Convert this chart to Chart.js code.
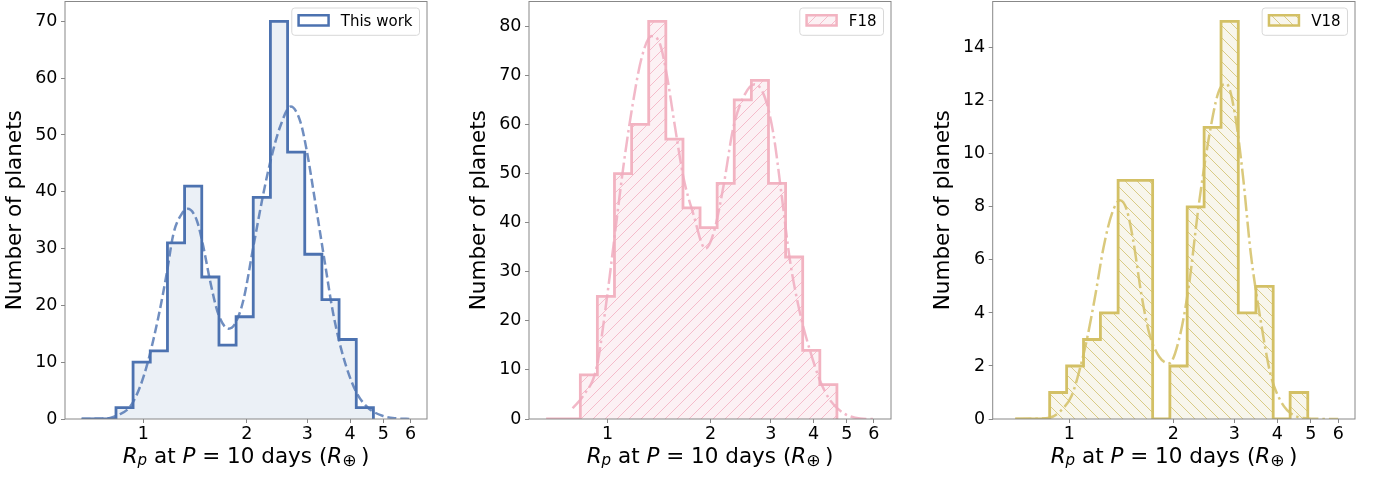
<!DOCTYPE html>
<html>
<head>
<meta charset="utf-8">
<script src="https://cdn.jsdelivr.net/npm/chart.js@4.4.0/dist/chart.umd.min.js"></script>
<style>
  body { margin: 0; background: #fff; }
  #wrap { position: relative; width: 1379px; height: 478px; overflow: hidden; }
  canvas { position: absolute; top: 0; }
  .xt { position: absolute; top: 444px; width: 400px; text-align: center; font: 21.5px/24px "DejaVu Sans"; color: #000; white-space: nowrap; }
  .xt i { font-style: oblique; }
  .xt sub { font-size: 0.7em; vertical-align: -0.15em; line-height: 0; }
  .xt .op { font-size: 0.8em; }
</style>
</head>
<body>
<div id="wrap">
  <canvas id="c1" width="460" height="478" style="left:0px"></canvas>
  <canvas id="c2" width="460" height="478" style="left:460px"></canvas>
  <canvas id="c3" width="459" height="478" style="left:920px"></canvas>
  <div class="xt" style="left:46px"><i>R</i><sub><i>p</i></sub> at <i>P</i> = 10 days (<i>R</i><sub class="op">⊕</sub>&thinsp;)</div>
  <div class="xt" style="left:510px"><i>R</i><sub><i>p</i></sub> at <i>P</i> = 10 days (<i>R</i><sub class="op">⊕</sub>&thinsp;)</div>
  <div class="xt" style="left:974px"><i>R</i><sub><i>p</i></sub> at <i>P</i> = 10 days (<i>R</i><sub class="op">⊕</sub>&thinsp;)</div>
</div>
<script>
// bin edges (R_earth)
const edgesThisWork = [0.661, 0.741, 0.832, 0.933, 1.047, 1.175, 1.318, 1.479, 1.660, 1.862, 2.089, 2.344, 2.630, 2.951, 3.311, 3.715, 4.169, 4.677];
const edgesF18 = edgesThisWork;
const edgesV18 = [0.697, 0.782, 0.877, 0.982, 1.099, 1.230, 1.384, 1.549, 1.742, 1.954, 2.193, 2.455, 2.748, 3.083, 3.467, 3.890, 4.355, 4.898];

// counts per bin
const countsThisWork = [0, 0, 2, 10, 12, 31, 41, 25, 13, 18, 39, 70, 47, 29, 21, 14, 2];
const countsF18 = [0, 0, 9, 25, 50, 60, 81, 57, 43, 39, 48, 65, 69, 48, 33, 14, 7];
const countsV18 = [0, 0, 1, 2, 3, 4, 9, 9, 0, 2, 8, 11, 15, 4, 5, 0, 1];

// smooth curves
const kdeThisWorkR = [0.66, 0.74, 0.80, 0.844, 0.915, 0.978, 1.034, 1.106, 1.169, 1.223, 1.293, 1.346, 1.43, 1.495, 1.563, 1.65, 1.77, 1.85, 1.955, 2.09, 2.236, 2.36, 2.50, 2.686, 2.86, 2.99, 3.16, 3.38, 3.57, 3.82, 4.14, 4.47, 5.0, 5.5, 6.0];
const kdeThisWorkN = [0, 0.05, 0.2, 0.7, 2.2, 5.7, 10.4, 18, 25.6, 32.6, 36.1, 37, 35, 30.3, 24.4, 18.6, 15.9, 16.8, 20.9, 30.3, 39.7, 46.1, 51.4, 55, 52.5, 47.3, 38.5, 27.4, 18.6, 11, 5.1, 2.2, 0.5, 0.1, 0];
const kdeF18R = [0.79, 0.85, 0.929, 0.993, 1.05, 1.111, 1.175, 1.257, 1.344, 1.422, 1.487, 1.574, 1.664, 1.779, 1.93, 2.036, 2.177, 2.33, 2.49, 2.69, 2.88, 3.05, 3.22, 3.41, 3.65, 3.9, 4.17, 4.46, 4.89, 5.47, 6.0];
const kdeF18N = [2.2, 4.8, 10.6, 24.2, 37.7, 51.3, 62.8, 73.6, 78, 76.4, 70.3, 59.4, 49.3, 41.8, 34.7, 37.7, 47.2, 59.4, 65.5, 68.2, 65.5, 58.1, 45.9, 32.3, 21.5, 14, 7.9, 3.9, 1.2, 0.1, 0];
const kdeV18R = [0.698, 0.80, 0.877, 0.942, 1.017, 1.073, 1.128, 1.19, 1.257, 1.328, 1.402, 1.465, 1.53, 1.616, 1.706, 1.82, 1.945, 2.077, 2.216, 2.365, 2.526, 2.697, 2.847, 3.006, 3.175, 3.35, 3.58, 3.82, 4.08, 4.45, 5.07, 6.0];
const kdeV18N = [0, 0.01, 0.05, 0.3, 0.9, 1.9, 3.1, 4.7, 6.5, 7.75, 8.25, 7.9, 6.75, 4.7, 3.2, 2.35, 2.1, 3.0, 5.0, 8.0, 10.5, 12.3, 12.65, 11.6, 9.25, 6.25, 3.7, 1.7, 0.7, 0.15, 0.01, 0];

// tick labels
const xTicks = [1, 2, 3, 4, 5, 6];
const yTicksThisWork = [0, 10, 20, 30, 40, 50, 60, 70];
const yTicksF18 = [0, 10, 20, 30, 40, 50, 60, 70, 80];
const yTicksV18 = [0, 2, 4, 6, 8, 10, 12, 14];

Chart.defaults.font.family = '"DejaVu Sans"';

function hatch(bg, line, dir) {
  const s = 12;
  const c = document.createElement('canvas');
  c.width = s; c.height = s;
  const g = c.getContext('2d');
  g.fillStyle = bg;
  g.fillRect(0, 0, s, s);
  g.strokeStyle = line;
  g.lineWidth = 1;
  g.beginPath();
  for (const o of [-s, 0, s]) {
    if (dir === '/') { g.moveTo(o - 1, s + 1); g.lineTo(o + s + 1, -1); }
    else { g.moveTo(o - 1, -1); g.lineTo(o + s + 1, s + 1); }
  }
  g.stroke();
  return g.createPattern(c, 'repeat');
}

// step outline points from edges + counts
function stepPoints(edges, counts) {
  const pts = [{x: edges[0], y: 0}];
  counts.forEach((c, i) => pts.push({x: edges[i], y: c}));
  pts.push({x: edges[edges.length - 1], y: counts[counts.length - 1]});
  pts.push({x: edges[edges.length - 1], y: 0});
  return pts;
}

// no label overflow padding, the plot box is placed by hand
function noPad(s) {
  s.paddingTop = 0; s.paddingBottom = 0; s.paddingLeft = 0; s.paddingRight = 0;
}

const frameAndLegend = {
  id: 'frameAndLegend',
  afterDatasetsDraw(chart, args, o) {
    const ctx = chart.ctx, a = chart.chartArea;
    ctx.save();
    ctx.strokeStyle = '#888';
    ctx.lineWidth = 1;
    ctx.strokeRect(a.left, a.top, a.right - a.left, a.bottom - a.top);

    ctx.font = '15px "DejaVu Sans"';
    const tw = ctx.measureText(o.label).width;
    const w = 56 + tw, h = 27.3;
    const x = a.right - 7.5 - w, y = 8;
    ctx.beginPath();
    ctx.roundRect(x, y, w, h, 3);
    ctx.fillStyle = 'rgba(255,255,255,0.8)';
    ctx.fill();
    ctx.strokeStyle = '#d8d8d8';
    ctx.lineWidth = 1;
    ctx.stroke();

    ctx.beginPath();
    ctx.rect(x + 6.8, y + 7.2, 30, 10.3);
    ctx.fillStyle = o.patchFill;
    ctx.fill();
    ctx.strokeStyle = o.color;
    ctx.lineWidth = 2.5;
    ctx.stroke();

    ctx.fillStyle = '#000';
    ctx.textBaseline = 'alphabetic';
    ctx.textAlign = 'left';
    ctx.fillText(o.label, x + 49, y + 18);
    ctx.restore();
  }
};

function makeChart(p) {
  return new Chart(document.getElementById(p.id), {
    type: 'line',
    data: {
      datasets: [
        {
          data: stepPoints(p.edges, p.counts),
          stepped: 'before',
          borderColor: p.color,
          borderWidth: 2.8,
          borderJoinStyle: 'miter',
          fill: 'origin',
          backgroundColor: p.fill,
          pointRadius: 0,
          order: 1
        },
        {
          data: p.kdeR.map((r, i) => ({x: r, y: p.kdeN[i]})),
          borderColor: p.curve,
          borderWidth: 2.5,
          borderDash: p.dash,
          cubicInterpolationMode: 'monotone',
          fill: false,
          pointRadius: 0,
          order: 0
        }
      ]
    },
    options: {
      responsive: false,
      animation: false,
      events: [],
      layout: {autoPadding: false, padding: {left: 0, right: p.padRight, top: 1.5, bottom: 0}},
      scales: {
        x: {
          type: 'logarithmic',
          min: p.xmin, max: p.xmax,
          afterBuildTicks: s => { s.ticks = xTicks.map(v => ({value: v})); },
          afterFit: s => { s.height = 59; noPad(s); },
          ticks: {autoSkip: false, maxRotation: 0, padding: 1, color: '#000', font: {size: 17.5}, callback: v => String(v)},
          grid: {drawOnChartArea: false, drawTicks: true, tickLength: 4, color: '#888'},
          border: {display: false}
        },
        y: {
          min: 0, max: p.ymax,
          afterBuildTicks: s => { s.ticks = p.yTicks.map(v => ({value: v})); },
          afterFit: s => { s.width = p.yWidth; noPad(s); },
          ticks: {padding: 3.5, color: '#000', font: {size: 17.5}, callback: v => String(v)},
          grid: {drawOnChartArea: false, drawTicks: true, tickLength: 4, color: '#888'},
          border: {display: false},
          title: {display: true, text: 'Number of planets', color: '#000', font: {size: 21.5}, padding: {top: p.titlePad, bottom: 0}}
        }
      },
      plugins: {
        legend: {display: false},
        tooltip: {enabled: false},
        frameAndLegend: {label: p.label, color: p.color, patchFill: p.patchFill}
      }
    },
    plugins: [frameAndLegend]
  });
}

makeChart({
  id: 'c1', edges: edgesThisWork, counts: countsThisWork, kdeR: kdeThisWorkR, kdeN: kdeThisWorkN,
  yTicks: yTicksThisWork, ymax: 73.5, xmin: 0.591, xmax: 6.70, yWidth: 65, padRight: 33, titlePad: 2.1,
  color: '#4c72b0', fill: 'rgba(76,114,176,0.11)', curve: 'rgba(76,114,176,0.8)', dash: [9, 4],
  label: 'This work', patchFill: '#fff'
});
makeChart({
  id: 'c2', edges: edgesF18, counts: countsF18, kdeR: kdeF18R, kdeN: kdeF18N,
  yTicks: yTicksF18, ymax: 85.05, xmin: 0.589, xmax: 6.73, yWidth: 69, padRight: 29, titlePad: 6.1,
  color: '#f2b3c1', fill: hatch('#fcf1f4', '#f5bccb', '/'), curve: 'rgba(240,172,190,0.85)', dash: [16, 4, 2.5, 4],
  label: 'F18', patchFill: hatch('#fcf1f4', '#f5bccb', '/')
});
makeChart({
  id: 'c3', edges: edgesV18, counts: countsV18, kdeR: kdeV18R, kdeN: kdeV18N,
  yTicks: yTicksV18, ymax: 15.75, xmin: 0.618, xmax: 6.71, yWidth: 72.7, padRight: 24, titlePad: 10.6,
  color: '#d3c065', fill: hatch('#f8f6ec', '#d9cb86', '\\'), curve: 'rgba(211,192,101,0.85)', dash: [16, 4, 2.5, 4],
  label: 'V18', patchFill: hatch('#f8f6ec', '#d9cb86', '\\')
});
</script>
</body>
</html>
